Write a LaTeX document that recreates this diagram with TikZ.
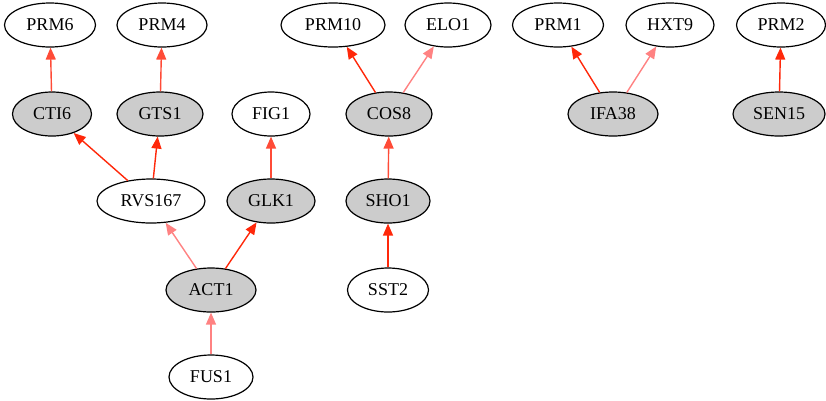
\documentclass[tikz,border=0pt]{standalone}
\usepackage{fontspec}
\setmainfont{Liberation Serif}
\usetikzlibrary{shapes.geometric,arrows.meta}
\definecolor{nodegray}{RGB}{204,204,204}
\definecolor{estrong}{RGB}{255,40,10}
\definecolor{emed}{RGB}{255,75,55}
\definecolor{elight}{RGB}{255,130,130}
\begin{document}
\begin{tikzpicture}[x=1pt,y=-1pt,
  gn/.style={ellipse,draw=black,line width=1.2pt,inner sep=0pt,minimum height=44pt,font=\fontsize{18}{20}\selectfont},
  wn/.style={gn,fill=white},
  fn/.style={gn,fill=nodegray},
  ed/.style={line width=1.4pt,-{Triangle[length=12pt,width=10pt]}},
  es/.style={ed,estrong},
  em/.style={ed,emed},
  el/.style={ed,elight}]
\useasboundingbox (0,0) rectangle (826,400);
% row 1
\node[wn,minimum width=91pt] (PRM6) at (50,25) {PRM6};
\node[wn,minimum width=90pt] (PRM4) at (162,25) {PRM4};
\node[wn,minimum width=104pt] (PRM10) at (333,25) {PRM10};
\node[wn,minimum width=86pt] (ELO1) at (448,25) {ELO1};
\node[wn,minimum width=91pt] (PRM1) at (558,25) {PRM1};
\node[wn,minimum width=88pt] (HXT9) at (670,25) {HXT9};
\node[wn,minimum width=89pt] (PRM2) at (781,25) {PRM2};
% row 2
\node[fn,minimum width=79pt] (CTI6) at (52,114) {CTI6};
\node[fn,minimum width=86pt] (GTS1) at (160,114) {GTS1};
\node[wn,minimum width=78pt] (FIG1) at (271,114) {FIG1};
\node[fn,minimum width=86pt] (COS8) at (389,114) {COS8};
\node[fn,minimum width=90pt] (IFA38) at (613,114) {IFA38};
\node[fn,minimum width=92pt] (SEN15) at (779,114) {SEN15};
% row 3
\node[wn,minimum width=108pt] (RVS167) at (151,201) {RVS167};
\node[fn,minimum width=88pt] (GLK1) at (271,201) {GLK1};
\node[fn,minimum width=84pt] (SHO1) at (388,201) {SHO1};
% row 4
\node[fn,minimum width=90pt] (ACT1) at (211,290) {ACT1};
\node[wn,minimum width=81pt] (SST2) at (388,290) {SST2};
% row 5
\node[wn,minimum width=84pt] (FUS1) at (211,377) {FUS1};
% edges
\draw[em] (CTI6) -- (PRM6);
\draw[em] (GTS1) -- (PRM4);
\draw[es] (RVS167) -- (CTI6);
\draw[es] (RVS167) -- (GTS1);
\draw[em] (GLK1) -- (FIG1);
\draw[el] (ACT1) -- (RVS167);
\draw[es] (ACT1) -- (GLK1);
\draw[el] (FUS1) -- (ACT1);
\draw[es] (COS8) -- (PRM10);
\draw[el] (COS8) -- (ELO1);
\draw[em] (SHO1) -- (COS8);
\draw[es] (SST2) -- (SHO1);
\draw[es] (IFA38) -- (PRM1);
\draw[el] (IFA38) -- (HXT9);
\draw[es] (SEN15) -- (PRM2);
\end{tikzpicture}
\end{document}
